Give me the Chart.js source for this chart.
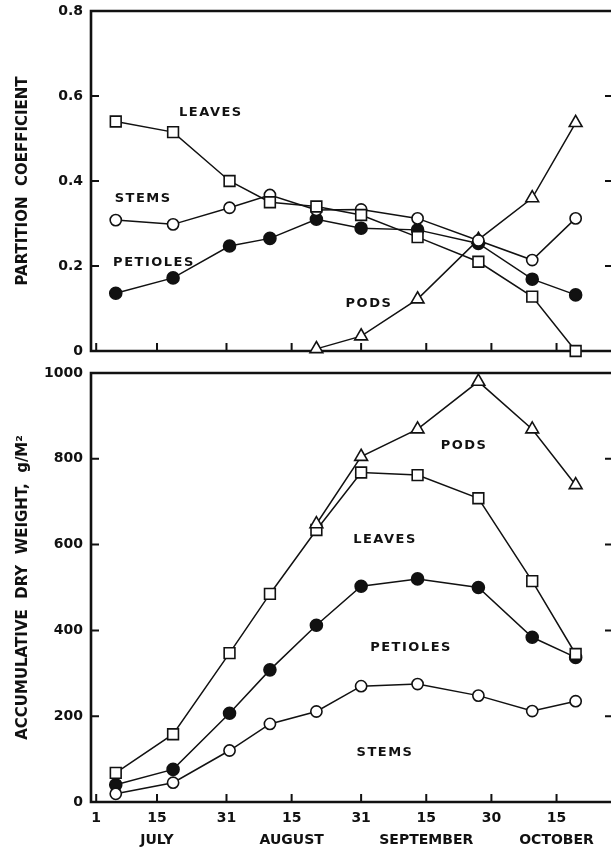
<!DOCTYPE html>
<html>
<head>
<meta charset="utf-8">
<title>Partition coefficient and dry weight</title>
<script src="https://cdn.jsdelivr.net/npm/chart.js@4.4.1/dist/chart.umd.min.js"></script>
<style>
    html, body { margin: 0; padding: 0; background: #fff; }
    #wrap { position: relative; width: 611px; height: 849px; overflow: hidden; }
    canvas { position: absolute; left: 0; }
    #partitionChart { top: 0; }
    #weightChart { top: 362px; }
</style>
</head>
<body>
<div id="wrap">
    <canvas id="partitionChart" width="613" height="362"></canvas>
    <canvas id="weightChart" width="613" height="487"></canvas>
</div>
<script>
// Sampling dates, as days after July 1
const sampleDays = [4.5, 17.7, 30.7, 40, 50.7, 61, 74, 88, 100.4, 110.4];

// Date axis ticks (days after July 1) and their labels
const dayTicks = [0, 14, 30, 45, 61, 76, 91, 106];
const dayTickLabels = [["1"], ["15", "JULY"], ["31"], ["15", "AUGUST"], ["31"], ["15", "SEPTEMBER"], ["30"], ["15", "OCTOBER"]];

// Partition coefficient (top panel)
const partLeaves   = [0.54, 0.515, 0.40, 0.35, 0.34, 0.32, 0.268, 0.21, 0.128, 0.0];
const partStems    = [0.308, 0.298, 0.337, 0.367, 0.332, 0.333, 0.312, 0.26, 0.214, 0.312];
const partPetioles = [0.136, 0.172, 0.247, 0.265, 0.31, 0.289, 0.285, 0.253, 0.169, 0.132];
const partPods     = [null, null, null, null, 0.005, 0.035, 0.122, 0.262, 0.36, 0.537];

// Accumulative dry weight, g/m2 (bottom panel)
const dryLeaves   = [68, 158, 347, 485, 634, 768, 762, 708, 515, 345];
const dryPetioles = [40, 76, 207, 308, 412, 503, 520, 500, 384, 337];
const dryStems    = [19, 45, 120, 182, 211, 270, 275, 248, 212, 235];
const dryPods     = [null, null, null, null, 648, 805, 869, 980, 869, 739];

const partTicks = [0, 0.2, 0.4, 0.6, 0.8];
const dryTicks = [0, 200, 400, 600, 800, 1000];

document.addEventListener("DOMContentLoaded", function () {
    const ink = "#111";
    const tickFont = { family: "'DejaVu Sans'", weight: "bold", size: 14 };
    const titleFont = { family: "'DejaVu Sans'", weight: "bold", size: 15 };
    const xMin = -1.2, xMax = 119;

    // pair values with the sampling dates, skipping missing ones
    function points(values) {
        return values
            .map((v, i) => (v === null ? null : { x: sampleDays[i], y: v }))
            .filter(p => p !== null);
    }

    function series(label, values, shape, filled, radius) {
        return {
            label: label,
            data: points(values),
            borderColor: ink,
            borderWidth: 1.5,
            pointStyle: shape,
            pointRadius: radius,
            pointBackgroundColor: filled ? ink : "#fff",
            pointBorderColor: ink,
            pointBorderWidth: 1.6,
            tension: 0,
            fill: false,
            clip: false
        };
    }

    // frame on three sides plus tick marks pointing into the plot
    const frame = {
        id: "frame",
        beforeDatasetsDraw(chart) {
            const { ctx, chartArea: a, scales } = chart;
            ctx.save();
            ctx.strokeStyle = ink;
            ctx.lineWidth = 2.6;
            ctx.beginPath();
            ctx.moveTo(a.right + 4, a.top);
            ctx.lineTo(a.left, a.top);
            ctx.lineTo(a.left, a.bottom);
            ctx.lineTo(a.right + 4, a.bottom);
            ctx.stroke();

            ctx.lineWidth = 2;
            ctx.beginPath();
            scales.x.ticks.forEach(t => {
                const px = scales.x.getPixelForValue(t.value);
                ctx.moveTo(px, a.bottom);
                ctx.lineTo(px, a.bottom - 8);
            });
            scales.y.ticks.forEach(t => {
                const py = scales.y.getPixelForValue(t.value);
                if (py <= a.top + 2 || py >= a.bottom - 2) return;
                ctx.moveTo(a.left, py);
                ctx.lineTo(a.left + 8, py);
                ctx.moveTo(a.right, py);
                ctx.lineTo(a.right - 8, py);
            });
            ctx.stroke();
            ctx.restore();
        }
    };

    // series names written inside the plot
    const seriesNames = {
        id: "seriesNames",
        afterDatasetsDraw(chart, args, opts) {
            const { ctx, scales } = chart;
            ctx.save();
            ctx.font = "bold 13px 'DejaVu Sans'";
            ctx.letterSpacing = "1.5px";
            ctx.fillStyle = ink;
            ctx.textAlign = "center";
            ctx.textBaseline = "middle";
            (opts.items || []).forEach(it => {
                ctx.fillText(it.text, scales.x.getPixelForValue(it.x), scales.y.getPixelForValue(it.y));
            });
            ctx.restore();
        }
    };

    function setTicks(list) {
        return function (scale) {
            scale.ticks = list.map(v => ({ value: v }));
        };
    }

    function buildOptions(yMin, yMax, yTickList, yTitle, showDates, xHeight, names) {
        return {
            responsive: false,
            animation: false,
            layout: { autoPadding: false, padding: { top: 11, left: 0, right: 0, bottom: 0 } },
            plugins: {
                legend: { display: false },
                tooltip: { enabled: false },
                seriesNames: { items: names }
            },
            scales: {
                x: {
                    type: "linear",
                    min: xMin,
                    max: xMax,
                    grid: { display: false, drawTicks: false },
                    border: { display: false },
                    afterBuildTicks: setTicks(dayTicks),
                    afterFit: s => {
                        s.height = xHeight;
                        s.paddingLeft = 0;
                        s.paddingRight = 0;
                    },
                    ticks: {
                        display: showDates,
                        autoSkip: false,
                        maxRotation: 0,
                        padding: 5,
                        color: ink,
                        font: Object.assign({ lineHeight: 1.57 }, tickFont),
                        callback: (value, index) => dayTickLabels[index]
                    }
                },
                y: {
                    min: yMin,
                    max: yMax,
                    grid: { display: false, drawTicks: false },
                    border: { display: false },
                    afterBuildTicks: setTicks(yTickList),
                    afterFit: s => {
                        s.width = 91;
                        s.paddingTop = 0;
                        s.paddingBottom = 0;
                    },
                    ticks: {
                        padding: 8,
                        color: ink,
                        font: tickFont,
                        callback: value => String(value)
                    },
                    title: {
                        display: true,
                        text: yTitle,
                        color: ink,
                        font: titleFont,
                        padding: { top: 14, bottom: 0 }
                    }
                }
            }
        };
    }

    new Chart(document.getElementById("partitionChart").getContext("2d"), {
        type: "line",
        data: {
            datasets: [
                series("LEAVES", partLeaves, "rect", false, 7.6),
                series("STEMS", partStems, "circle", false, 5.6),
                series("PODS", partPods, "triangle", false, 7.4),
                series("PETIOLES", partPetioles, "circle", true, 6)
            ]
        },
        options: buildOptions(0, 0.8, partTicks, "PARTITION  COEFFICIENT", false, 11, [
            { text: "LEAVES", x: 26.4, y: 0.56 },
            { text: "STEMS", x: 10.8, y: 0.358 },
            { text: "PETIOLES", x: 13.3, y: 0.207 },
            { text: "PODS", x: 62.8, y: 0.111 }
        ]),
        plugins: [frame, seriesNames]
    });

    new Chart(document.getElementById("weightChart").getContext("2d"), {
        type: "line",
        data: {
            datasets: [
                series("PODS", dryPods, "triangle", false, 7.4),
                series("LEAVES", dryLeaves, "rect", false, 7.6),
                series("STEMS", dryStems, "circle", false, 5.6),
                series("PETIOLES", dryPetioles, "circle", true, 6)
            ]
        },
        options: buildOptions(0, 1000, dryTicks, "ACCUMULATIVE  DRY  WEIGHT,  g/M\u00B2", true, 47, [
            { text: "PODS", x: 84.7, y: 830 },
            { text: "LEAVES", x: 66.5, y: 611 },
            { text: "PETIOLES", x: 72.5, y: 361 },
            { text: "STEMS", x: 66.5, y: 114 }
        ]),
        plugins: [frame, seriesNames]
    });
});
</script>
</body>
</html>
